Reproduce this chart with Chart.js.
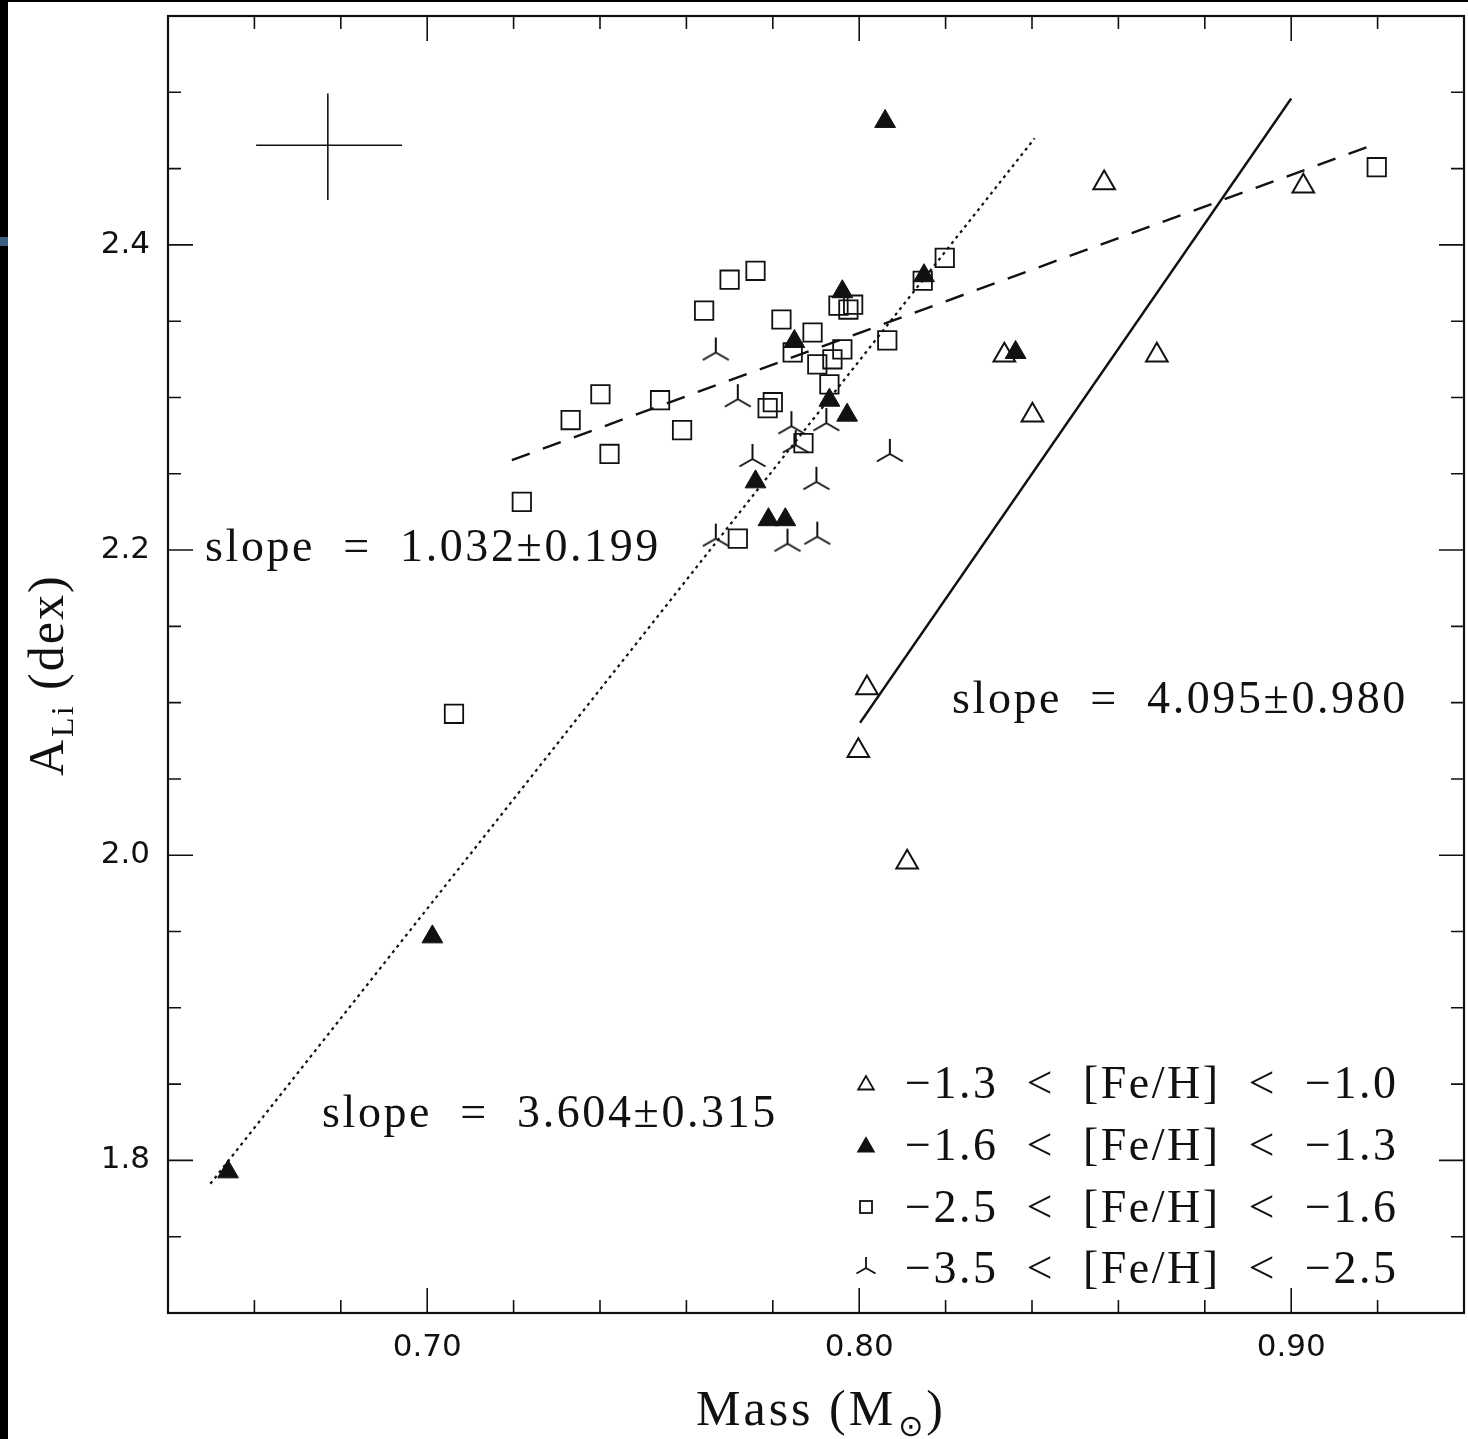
<!DOCTYPE html>
<html>
<head>
<meta charset="utf-8">
<script src="https://cdn.jsdelivr.net/npm/chart.js@4.4.0/dist/chart.umd.min.js"></script>
<style>
  html, body { margin: 0; padding: 0; background: #fff; overflow: hidden; }
  #wrap { position: absolute; left: 0; top: 0; width: 1468px; height: 1439px; overflow: hidden; }
  #liChart { position: absolute; left: 0; top: 0; }
  #edgeL { position: absolute; left: 0; top: 0; width: 8px; height: 1439px; background: #000; }
  #edgeT { position: absolute; left: 0; top: 0; width: 1468px; height: 2px; background: #000; }
  #edgeMark { position: absolute; left: 0; top: 237px; width: 8px; height: 9px; background: #3f5f80; }
</style>
</head>
<body>
<div id="wrap"><canvas id="liChart" width="1480" height="1439" style="width:1480px;height:1439px"></canvas></div>
<div id="edgeL"></div>
<div id="edgeT"></div>
<div id="edgeMark"></div>
<script>
// data: mass (Msun) vs A(Li)
const openTriMass = [0.8567, 0.9028, 0.8336, 0.8689, 0.8401, 0.8018, 0.7998, 0.8111];
const openTriALi  = [2.4405, 2.4385, 2.3276, 2.3276, 2.2884, 2.1096, 2.0685, 1.9954];

const filledTriMass = [0.806, 0.7961, 0.815, 0.785, 0.8362, 0.7931, 0.7972, 0.776, 0.779, 0.7829, 0.7012, 0.6539];
const filledTriALi  = [2.4809, 2.3693, 2.3798, 2.3367, 2.3295, 2.2982, 2.2884, 2.2447, 2.2199, 2.2199, 1.9465, 1.7925];

const squareMass = [0.776, 0.770, 0.7641, 0.782, 0.7892, 0.7952, 0.7986, 0.7975, 0.7846, 0.7903, 0.7938, 0.7961, 0.7931, 0.8065,
                    0.8147, 0.8198, 0.9198, 0.7401, 0.7332, 0.7539, 0.759, 0.7422, 0.7219, 0.7719, 0.780, 0.7788, 0.7871, 0.7062];
const squareALi  = [2.383, 2.3772, 2.3569, 2.3511, 2.3426, 2.3602, 2.3608, 2.3576, 2.3295, 2.3217, 2.325, 2.3315, 2.3086, 2.3374,
                    2.3765, 2.3915, 2.4509, 2.3021, 2.2852, 2.2982, 2.2786, 2.263, 2.2316, 2.2075, 2.2969, 2.293, 2.2701, 2.0927];

const starMass = [0.7668, 0.7719, 0.7843, 0.7924, 0.7853, 0.7753, 0.8071, 0.7901, 0.7903, 0.7834, 0.7668];
const starALi  = [2.3295, 2.2989, 2.2812, 2.2832, 2.2688, 2.2597, 2.263, 2.2447, 2.2088, 2.2042, 2.2075];

// fitted relations (end points)
const fitDottedMass = [0.6498, 0.8406];
const fitDottedALi  = [1.7847, 2.4698];
const fitDashedMass = [0.7196, 0.9200];
const fitDashedALi  = [2.2590, 2.4666];
const fitSolidMass  = [0.8002, 0.9000];
const fitSolidALi   = [2.0868, 2.4959];

// typical error bar
const errHMass = [0.6604, 0.6942];
const errHALi  = [2.4653, 2.4653];
const errVMass = [0.677, 0.677];
const errVALi  = [2.4294, 2.4992];

// ticks
const xMajorTicks = [0.70, 0.80, 0.90];
const xMinorTicks = [0.66, 0.68, 0.72, 0.74, 0.76, 0.78, 0.82, 0.84, 0.86, 0.88, 0.92];
const yMajorTicks = [1.8, 2.0, 2.2, 2.4];
const yMinorTicks = [1.75, 1.85, 1.90, 1.95, 2.05, 2.10, 2.15, 2.25, 2.30, 2.35, 2.45, 2.50];

const legendLabels = [
  '\u22121.3  <  [Fe/H]  <  \u22121.0',
  '\u22121.6  <  [Fe/H]  <  \u22121.3',
  '\u22122.5  <  [Fe/H]  <  \u22121.6',
  '\u22123.5  <  [Fe/H]  <  \u22122.5'
];
const slopeLabels = ['slope  =  1.032\u00b10.199', 'slope  =  4.095\u00b10.980', 'slope  =  3.604\u00b10.315'];

const INK = '#111';
const SERIF = '"Liberation Serif", "DejaVu Serif", serif';

const toXY = (xs, ys) => xs.map((v, i) => ({ x: v, y: ys[i] }));

// inverted-Y three armed star
function makeStar(arm, lw) {
  const s = Math.ceil(arm * 2 + 4);
  const c = document.createElement('canvas');
  c.width = s; c.height = s;
  const g = c.getContext('2d');
  const m = s / 2;
  g.strokeStyle = INK;
  g.lineWidth = lw;
  g.beginPath();
  g.moveTo(m, m); g.lineTo(m, m - arm);
  g.moveTo(m, m); g.lineTo(m - arm * 0.866, m + arm * 0.5);
  g.moveTo(m, m); g.lineTo(m + arm * 0.866, m + arm * 0.5);
  g.stroke();
  return c;
}
const starBig = makeStar(15, 2);
const starSmall = makeStar(11, 1.8);

function lineSet(xs, ys, dash, width) {
  return {
    type: 'line', data: toXY(xs, ys), showLine: true, pointRadius: 0,
    borderColor: INK, borderWidth: width, borderDash: dash, fill: false
  };
}

// no label overhang padding, the frame sits where the original one does
function noPad(s) {
  s.paddingLeft = 0; s.paddingRight = 0; s.paddingTop = 0; s.paddingBottom = 0;
}

const frameAndTicks = {
  id: 'frameAndTicks',
  afterDatasetsDraw(chart) {
    const { ctx, chartArea: a, scales: { x, y } } = chart;
    ctx.save();
    ctx.strokeStyle = INK;
    ctx.lineWidth = 2.2;
    ctx.strokeRect(a.left, a.top, a.right - a.left, a.bottom - a.top);
    ctx.lineWidth = 1.6;
    ctx.beginPath();
    const xt = (vals, len) => vals.forEach(v => {
      const px = x.getPixelForValue(v);
      ctx.moveTo(px, a.bottom); ctx.lineTo(px, a.bottom - len);
      ctx.moveTo(px, a.top); ctx.lineTo(px, a.top + len);
    });
    const yt = (vals, len) => vals.forEach(v => {
      const py = y.getPixelForValue(v);
      ctx.moveTo(a.left, py); ctx.lineTo(a.left + len, py);
      ctx.moveTo(a.right, py); ctx.lineTo(a.right - len, py);
    });
    xt(xMajorTicks, 25); xt(xMinorTicks, 13);
    yt(yMajorTicks, 25); yt(yMinorTicks, 13);
    ctx.stroke();
    ctx.restore();
  }
};

const labelsAndKey = {
  id: 'labelsAndKey',
  afterDraw(chart) {
    const { ctx } = chart;
    ctx.save();
    ctx.fillStyle = INK;
    ctx.strokeStyle = INK;
    ctx.textBaseline = 'alphabetic';
    ctx.textAlign = 'left';

    // slope annotations
    ctx.font = '46px ' + SERIF;
    ctx.letterSpacing = '2.6px';
    ctx.fillText(slopeLabels[0], 205, 561);
    ctx.fillText(slopeLabels[1], 952, 713);
    ctx.fillText(slopeLabels[2], 322, 1127);

    // x title with subscript sun
    ctx.letterSpacing = '3px';
    ctx.font = '50px ' + SERIF;
    let x0 = 696;
    ctx.fillText('Mass (M', x0, 1425);
    x0 += ctx.measureText('Mass (M').width + 2;
    ctx.font = '30px "DejaVu Sans", sans-serif';
    ctx.fillText('\u2299', x0, 1436);
    x0 += ctx.measureText('\u2299').width;
    ctx.font = '50px ' + SERIF;
    ctx.fillText(')', x0, 1425);

    // y title, rotated
    ctx.letterSpacing = '2px';
    ctx.translate(63, 776);
    ctx.rotate(-Math.PI / 2);
    ctx.font = '50px ' + SERIF;
    ctx.fillText('A', 0, 0);
    let w = ctx.measureText('A').width + 1;
    ctx.font = '32px ' + SERIF;
    ctx.fillText('Li', w, 10);
    w += ctx.measureText('Li').width;
    ctx.font = '50px ' + SERIF;
    ctx.fillText(' (dex)', w, 0);
    ctx.setTransform(1, 0, 0, 1, 0, 0);

    // key
    const rows = [1083, 1145, 1207, 1268];
    const sx = 866;
    ctx.font = '46px ' + SERIF;
    ctx.letterSpacing = '2.5px';
    rows.forEach((ry, i) => ctx.fillText(legendLabels[i], 905, ry + 15));
    ctx.letterSpacing = '0px';
    ctx.lineWidth = 1.8;
    const tri = (cx, cy, r) => {
      ctx.beginPath();
      ctx.moveTo(cx, cy - r);
      ctx.lineTo(cx - r * 0.866, cy + r / 2);
      ctx.lineTo(cx + r * 0.866, cy + r / 2);
      ctx.closePath();
    };
    tri(sx, rows[0] + 2, 9); ctx.stroke();
    tri(sx, rows[1] + 2, 9); ctx.fill(); ctx.stroke();
    ctx.strokeRect(sx - 6, rows[2] - 6, 12, 12);
    ctx.drawImage(starSmall, sx - starSmall.width / 2, rows[3] - starSmall.height / 2);
    ctx.restore();
  }
};

const config = {
  type: 'scatter',
  data: {
    datasets: [
      lineSet(fitDottedMass, fitDottedALi, [3, 4], 2.2),
      lineSet(fitDashedMass, fitDashedALi, [19, 14], 2.4),
      lineSet(fitSolidMass, fitSolidALi, [], 2.4),
      lineSet(errHMass, errHALi, [], 1.6),
      lineSet(errVMass, errVALi, [], 1.6),
      {
        label: '-1.3 < [Fe/H] < -1.0', data: toXY(openTriMass, openTriALi),
        pointStyle: 'triangle', pointRadius: 12.5, borderWidth: 2,
        borderColor: INK, backgroundColor: 'rgba(0,0,0,0)'
      },
      {
        label: '-1.6 < [Fe/H] < -1.3', data: toXY(filledTriMass, filledTriALi),
        pointStyle: 'triangle', pointRadius: 12, borderWidth: 1,
        borderColor: INK, backgroundColor: INK
      },
      {
        label: '-2.5 < [Fe/H] < -1.6', data: toXY(squareMass, squareALi),
        pointStyle: 'rect', pointRadius: 13, borderWidth: 1.8,
        borderColor: INK, backgroundColor: 'rgba(0,0,0,0)'
      },
      {
        label: '-3.5 < [Fe/H] < -2.5', data: toXY(starMass, starALi),
        pointStyle: starBig, pointRadius: 15
      }
    ]
  },
  options: {
    responsive: false,
    animation: false,
    layout: { padding: { left: 0, top: 13, right: 8.4, bottom: 0 } },
    plugins: { legend: { display: false }, tooltip: { enabled: false } },
    scales: {
      x: {
        type: 'linear', min: 0.64, max: 0.94,
        grid: { display: false, drawTicks: false },
        border: { display: false },
        afterBuildTicks: s => { s.ticks = xMajorTicks.map(v => ({ value: v })); },
        afterFit: s => { s.height = 126; noPad(s); },
        ticks: {
          callback: v => v.toFixed(2), maxRotation: 0, autoSkip: false, padding: 16,
          color: INK, font: { family: '"DejaVu Sans", sans-serif', size: 31 }
        }
      },
      y: {
        type: 'linear', min: 1.70, max: 2.55,
        grid: { display: false, drawTicks: false },
        border: { display: false },
        afterBuildTicks: s => { s.ticks = yMajorTicks.map(v => ({ value: v })); },
        afterFit: s => { s.width = 168; noPad(s); },
        ticks: {
          callback: v => v.toFixed(1), autoSkip: false, padding: 18,
          color: INK, font: { family: '"DejaVu Sans", sans-serif', size: 31 }
        }
      }
    }
  },
  plugins: [frameAndTicks, labelsAndKey]
};

window.addEventListener('DOMContentLoaded', () => {
  const ctx = document.getElementById('liChart').getContext('2d');
  new Chart(ctx, config);
});
</script>
</body>
</html>
